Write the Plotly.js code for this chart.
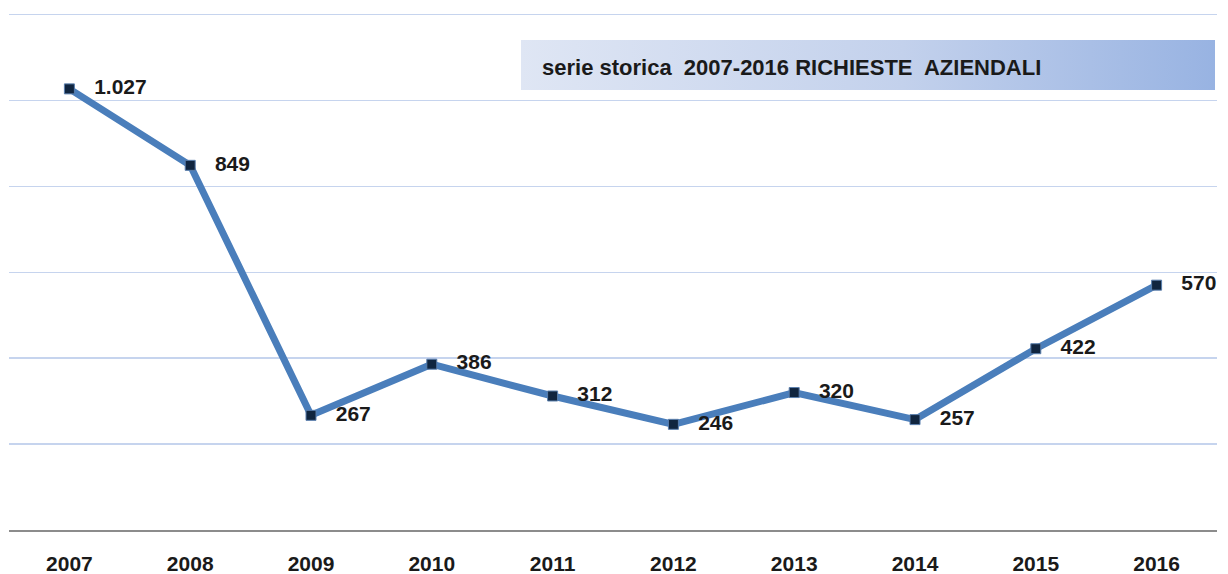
<!DOCTYPE html>
<html><head><meta charset="utf-8">
<script src="https://cdn.plot.ly/plotly-3.0.1.min.js"></script>
<style>html,body{margin:0;padding:0;background:#fff;}</style>
</head><body>
<div id="chart" style="width:1228px;height:574px;"></div>
<script>
const years = ['2007','2008','2009','2010','2011','2012','2013','2014','2015','2016'];
const requests = [1027, 849, 267, 386, 312, 246, 320, 257, 422, 570];
const valueLabels = ['1.027','849','267','386','312','246','320','257','422','570'];
const chartTitle = 'serie storica  2007-2016 RICHIESTE  AZIENDALI';

const gradSvg = '<svg xmlns="http://www.w3.org/2000/svg" width="700" height="50" preserveAspectRatio="none">' +
  '<defs><linearGradient id="g" x1="0" y1="0" x2="1" y2="0">' +
  '<stop offset="0" stop-color="#dfe6f4"/><stop offset="0.55" stop-color="#c3d1ec"/><stop offset="1" stop-color="#98b3e2"/>' +
  '</linearGradient></defs><rect width="700" height="50" fill="url(#g)"/></svg>';
const gradUrl = 'data:image/svg+xml;base64,' + btoa(gradSvg);

const FONT = 'Liberation Sans, Arial, sans-serif';
const PLOT_H = 518;

const trace = {
  x: years, y: requests, type: 'scatter', mode: 'lines+markers+text',
  text: valueLabels.map(s => '   ' + s), textposition: 'middle right',
  textfont: {family: FONT, size: 21, color: '#1a1a1a', weight: 'bold'},
  line: {color: '#4a7ebb', width: 7},
  marker: {symbol: 'square', size: 10, color: '#10253f', line: {color: '#5a7fae', width: 1}},
  cliponaxis: false, hoverinfo: 'x+y'
};

const layout = {
  width: 1228, height: 574,
  margin: {l: 9, r: 11, t: 12, b: 44},
  paper_bgcolor: '#ffffff', plot_bgcolor: '#ffffff',
  showlegend: false,
  xaxis: {
    type: 'category', range: [-0.5, 9.5], autorange: false,
    showgrid: false, zeroline: false,
    showline: true, linecolor: '#8c8c8c', linewidth: 2,
    ticks: 'outside', ticklen: 14, tickcolor: 'rgba(0,0,0,0)',
    tickfont: {family: FONT, size: 21, color: '#1a1a1a', weight: 'bold'}
  },
  yaxis: {
    range: [0, 1206], autorange: false, dtick: 200, tick0: 0, showticklabels: false,
    showgrid: true, gridcolor: '#c6d4ee', gridwidth: 1.5, zeroline: false, showline: false
  },
  images: [{
    source: gradUrl, xref: 'paper', yref: 'paper',
    x: (521 - 9) / 1208, y: (530 - 40) / PLOT_H, sizex: (1215 - 521) / 1208, sizey: 50 / PLOT_H,
    xanchor: 'left', yanchor: 'top', sizing: 'stretch', layer: 'below'
  }],
  annotations: [{
    text: chartTitle, xref: 'paper', yref: 'paper',
    x: (540 - 9) / 1208, y: (530 - 67) / PLOT_H, xanchor: 'left', yanchor: 'middle',
    showarrow: false,
    font: {family: FONT, size: 22, color: '#1a1a1a', weight: 'bold'}
  }]
};

Plotly.newPlot('chart', [trace], layout, {displayModeBar: false, staticPlot: true});
</script>
</body></html>
